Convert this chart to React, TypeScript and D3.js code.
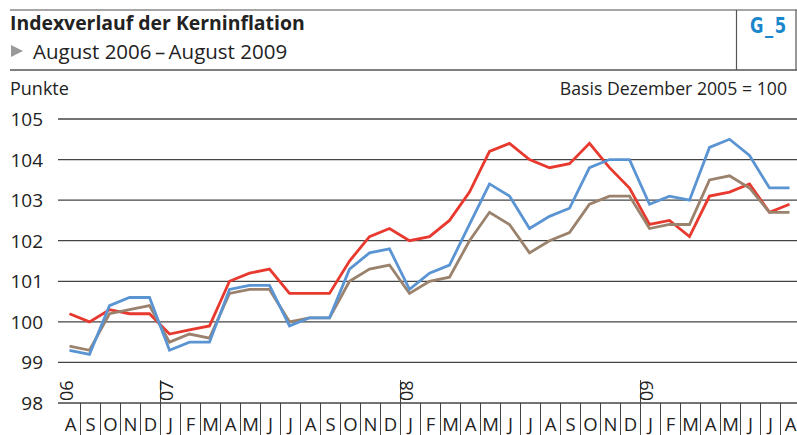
import React from 'react';
import * as d3 from 'd3';

// Monatskürzel August 2006 bis August 2009
const months = [
  'A', 'S', 'O', 'N', 'D',
  'J', 'F', 'M', 'A', 'M', 'J', 'J', 'A', 'S', 'O', 'N', 'D',
  'J', 'F', 'M', 'A', 'M', 'J', 'J', 'A', 'S', 'O', 'N', 'D',
  'J', 'F', 'M', 'A', 'M', 'J', 'J', 'A',
];
const yearLabels = ['06', '07', '08', '09'];
const yearStarts = [0, 5, 17, 29];

const redSeries = [
  100.2, 100.0, 100.3, 100.2, 100.2,
  99.7, 99.8, 99.9, 101.0, 101.2, 101.3, 100.7, 100.7, 100.7, 101.5, 102.1, 102.3,
  102.0, 102.1, 102.5, 103.2, 104.2, 104.4, 104.0, 103.8, 103.9, 104.4, 103.8, 103.3,
  102.4, 102.5, 102.1, 103.1, 103.2, 103.4, 102.7, 102.9,
];
const blueSeries = [
  99.3, 99.2, 100.4, 100.6, 100.6,
  99.3, 99.5, 99.5, 100.8, 100.9, 100.9, 99.9, 100.1, 100.1, 101.3, 101.7, 101.8,
  100.8, 101.2, 101.4, 102.4, 103.4, 103.1, 102.3, 102.6, 102.8, 103.8, 104.0, 104.0,
  102.9, 103.1, 103.0, 104.3, 104.5, 104.1, 103.3, 103.3,
];
const brownSeries = [
  99.4, 99.3, 100.2, 100.3, 100.4,
  99.5, 99.7, 99.6, 100.7, 100.8, 100.8, 100.0, 100.1, 100.1, 101.0, 101.3, 101.4,
  100.7, 101.0, 101.1, 102.0, 102.7, 102.4, 101.7, 102.0, 102.2, 102.9, 103.1, 103.1,
  102.3, 102.4, 102.4, 103.5, 103.6, 103.3, 102.7, 102.7,
];
const yTicks = [98, 99, 100, 101, 102, 103, 104, 105];

const FONT = '"Open Sans", "DejaVu Sans", sans-serif';

export default function App() {
  const W = 797;
  const H = 435;

  const x = d3.scaleBand<number>()
    .domain(months.map((_, i) => i))
    .range([60.5, 800.5])
    .padding(0);
  const y = d3.scaleLinear().domain([98, 105]).range([403, 119]);

  const px = (i: number) => (x(i) as number) + x.bandwidth() / 2 - 1;
  const line = d3.line<number>()
    .x((_, i) => px(i))
    .y(d => y(d));

  const series = [
    { values: redSeries, color: '#e8392f' },
    { values: brownSeries, color: '#9a826d' },
    { values: blueSeries, color: '#5b94d2' },
  ];

  return (
    <svg width={W} height={H} style={{ position: 'absolute', left: 0, top: 0 }} fontFamily={FONT}>
      <rect width={W} height={H} fill="#fff" />

      {/* Kopfbereich */}
      <line x1={10} x2={W} y1={10} y2={10} stroke="#888" strokeWidth={1.5} />
      <line x1={10} x2={W} y1={70} y2={70} stroke="#555" strokeWidth={1.5} />
      <line x1={736.5} x2={736.5} y1={10} y2={70} stroke="#555" strokeWidth={1.2} />
      <line x1={796} x2={796} y1={10} y2={70} stroke="#555" strokeWidth={1.2} />
      <text x={10} y={30} fontSize={19.4} fontWeight={700} fill="#222">Indexverlauf der Kerninflation</text>
      <path d="M11,45 L23,51 L11,57 Z" fill="#999" />
      <text x={33} y={59} fontSize={20.5} fill="#222">August 2006{'\u2009–\u2009'}August 2009</text>
      <text transform="translate(750,33) scale(0.78,1)" fontSize={21} fontWeight={700} fill="#1a86cc"
        fontFamily='"DejaVu Sans", sans-serif' letterSpacing={2}>G_5</text>

      <text x={10} y={95} fontSize={18} fill="#222">Punkte</text>
      <text x={787} y={95} fontSize={17.7} fill="#222" textAnchor="end">Basis Dezember 2005 = 100</text>

      {/* Gitternetz */}
      {yTicks.map(t => (
        <g key={t}>
          <line x1={58} x2={W} y1={y(t)} y2={y(t)} stroke="#444" strokeWidth={1.3} />
          <text x={43} y={y(t) + 7} fontSize={19} fill="#222" textAnchor="end">{t}</text>
        </g>
      ))}

      {/* Monatsleiste */}
      {months.map((m, i) => (
        <g key={i}>
          {i > 0 && (
            <line x1={x(i)} x2={x(i)} y1={yearStarts.includes(i) ? 380 : y(98)} y2={H}
              stroke="#444" strokeWidth={1} />
          )}
          <text x={(x(i) as number) + x.bandwidth() / 2} y={431} fontSize={18.5} fill="#222"
            textAnchor="middle">{m}</text>
        </g>
      ))}
      {yearLabels.map((yl, k) => {
        const bx = (x(yearStarts[k]) as number) + 12;
        return (
          <text key={yl} transform={`translate(${bx},401) rotate(-90)`} fontSize={18} fill="#222">{yl}</text>
        );
      })}

      {/* Linien */}
      {series.map((s, k) => (
        <path key={k} d={line(s.values) || ''} fill="none" stroke={s.color} strokeWidth={2.8}
          strokeLinejoin="miter" />
      ))}
    </svg>
  );
}
